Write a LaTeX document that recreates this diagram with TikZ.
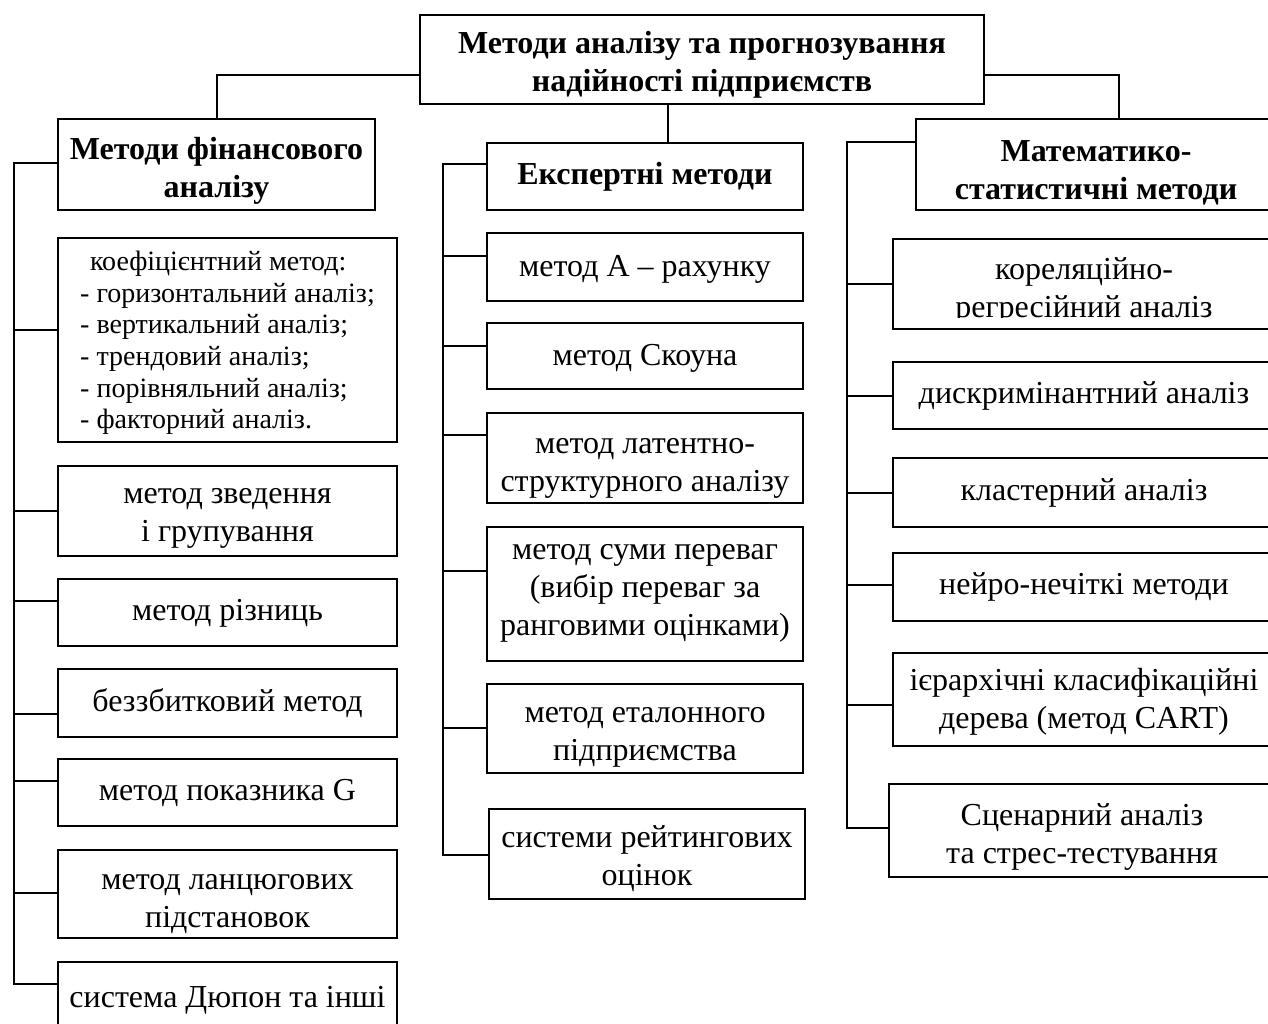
\documentclass[tikz,border=0pt]{standalone}
\usepackage{fontspec}
\setmainfont{Liberation Serif}
\begin{document}
\begin{tikzpicture}[x=0.5pt,y=-0.5pt,
  frame/.style={draw, line width=1.2pt, inner sep=0pt},
  box/.style={align=center, inner sep=0pt, font=\fontsize{16}{19}\selectfont},
  headbox/.style={box, font=\fontsize{16}{19}\selectfont\bfseries},
  listbox/.style={box, align=left, font=\fontsize{14}{15.85}\selectfont},
  link/.style={line width=1pt}]
% framed box from its corners, text moved down by dy:
% [text style]{name}{x1}{y1}{x2}{y2}{dy}{text}
\newcommand\pbox[8][box]{%
  \node[frame, minimum width={(#5-#3)*0.5pt}, minimum height={(#6-#4)*0.5pt}]
    (#2) at ({(#3+#5)/2},{(#4+#6)/2}) {};
  \node[#1] (#2-t) at ({(#3+#5)/2},{(#4+#6)/2+#7}) {#8};}

\useasboundingbox (0,0) rectangle (1268,1023);
\fill[white] (0,0) rectangle (1268,1023);
\clip (0,0) rectangle (1268,1023);

% root
\pbox[headbox]{top}{420}{15}{984}{104}{5}{Методи аналізу та прогнозування\\надійності підприємств}

% group headers
\pbox[headbox]{lhead}{58}{119}{375}{210}{6}{Методи фінансового\\аналізу}
\pbox[headbox]{mhead}{487}{143}{803}{210}{0}{Експертні методи}
\pbox[headbox]{rhead}{916}{119}{1276}{210}{8}{Математико-\\статистичні методи}

% financial analysis methods
\pbox[listbox]{coef}{58}{238}{397}{442}{3}{\hspace{0.35em}коефіцієнтний метод:\\- горизонтальний аналіз;\\- вертикальний аналіз;\\- трендовий аналіз;\\- порівняльний аналіз;\\- факторний аналіз.}
\pbox{l1}{58}{466}{397}{556}{7}{метод зведення\\і групування}
\pbox{l2}{58}{579}{397}{646}{1}{метод різниць}
\pbox{l3}{58}{669}{397}{737}{0}{беззбитковий метод}
\pbox{l4}{58}{759}{397}{826}{0}{метод показника G}
\pbox{l5}{58}{850}{397}{938}{10}{метод ланцюгових\\підстановок}
\pbox{l6}{58}{962}{397}{1030}{4}{система Дюпон та інші}

% expert methods
\pbox{m1}{487}{233}{803}{301}{2}{метод А – рахунку}
\pbox{m2}{487}{323}{803}{389}{2}{метод Скоуна}
\pbox{m3}{487}{413}{803}{503}{10}{метод латентно-\\структурного аналізу}
\pbox{m4}{487}{527}{803}{661}{-1}{метод суми переваг\\(вибір переваг за\\ранговими оцінками)}
\pbox{m5}{487}{684}{803}{773}{9}{метод еталонного\\підприємства}
\pbox{m6}{489}{809}{805}{899}{5}{системи рейтингових\\оцінок}

% mathematical and statistical methods
\node[frame, minimum width=191pt, minimum height=45pt] (r1) at (1084,284) {};
\begin{scope}
  \clip (893,239) rectangle (1275,317);
  \node[box] (r1-t) at (1084,291) {кореляційно-\\регресійний аналіз};
\end{scope}
\pbox{r2}{893}{362}{1275}{429}{0}{дискримінантний аналіз}
\pbox{r3}{893}{458}{1275}{527}{0}{кластерний аналіз}
\pbox{r4}{893}{553}{1275}{621}{0}{нейро-нечіткі методи}
\pbox{r5}{893}{653}{1275}{746}{2}{ієрархічні класифікаційні\\дерева (метод CART)}
\pbox{r6}{889}{784}{1275}{877}{6}{Сценарний аналіз\\та стрес-тестування}

% root to group headers
\draw[link] (top.west |- 0,75) -| (lhead.north);
\draw[link] (top.east |- 0,75) -| (rhead.north -| 1119,0);
\draw[link] (top.south -| 668,0) -- (mhead.north -| 668,0);

% left bus
\draw[link] (lhead.west |- 0,163) -- (14,163) -- (14,984) -- (l6.west |- 0,984);
\foreach \n/\y in {coef/330, l1/511, l2/601, l3/714, l4/781, l5/893}
  \draw[link] (14,\y) -- (\n.west |- 0,\y);

% middle bus
\draw[link] (mhead.west |- 0,164) -- (443,164) -- (443,855) -- (m6.west |- 0,855);
\foreach \n/\y in {m1/256, m2/346, m3/435, m4/571, m5/728}
  \draw[link] (443,\y) -- (\n.west |- 0,\y);

% right bus
\draw[link] (rhead.west |- 0,142) -- (847,142) -- (847,828) -- (r6.west |- 0,828);
\foreach \n/\y in {r1/284, r2/396, r3/493, r4/585, r5/705}
  \draw[link] (847,\y) -- (\n.west |- 0,\y);
\end{tikzpicture}
\end{document}
